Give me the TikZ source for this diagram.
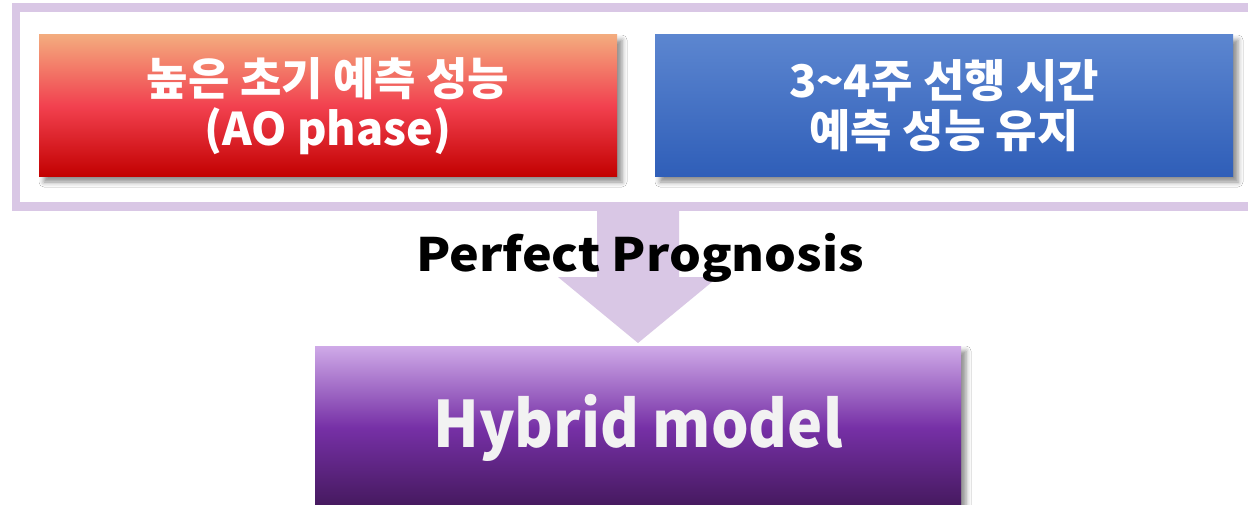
\documentclass[tikz,border=0pt]{standalone}
\usepackage{fontspec}
\setmainfont{Noto Sans CJK KR}
\usetikzlibrary{shadows.blur}
\definecolor{frameC}{HTML}{D9C7E5}
\definecolor{redTop}{HTML}{F3AB7E}
\definecolor{redMid}{HTML}{F2414F}
\definecolor{redBot}{HTML}{C20000}
\definecolor{blueTop}{HTML}{5C86D0}
\definecolor{blueBot}{HTML}{2F5EB8}
\definecolor{purTop}{HTML}{CFAAE8}
\definecolor{purMid}{HTML}{7630A6}
\definecolor{purBot}{HTML}{43185B}
\definecolor{hyText}{HTML}{F2F2F2}
\tikzset{
  box/.style={inner sep=0pt, align=center, text=white,
    blur shadow={shadow xshift=5pt, shadow yshift=-5pt, shadow blur radius=5pt, shadow opacity=45}},
  toptext/.style={font=\fontsize{45}{50}\selectfont\bfseries},
}
\begin{document}
\begin{tikzpicture}[x=1pt,y=-1pt]
\clip (0,0) rectangle (1248,505);
\fill[white] (0,0) rectangle (1248,505);
% frame
\node[draw=frameC, line width=8.5pt, minimum width=1244pt, minimum height=199pt, inner sep=0pt] (frame) at (638,107) {};
% arrow
\coordinate (tip) at (638,343);
\fill[frameC] (frame.south -| 597,0) -- (frame.south -| 679,0) -- (679,277) -- (718,277) -- (tip) -- (558,277) -- (597,277) -- cycle;
% boxes
\node[box, minimum width=578pt, minimum height=142pt, top color=redTop, bottom color=redBot, middle color=redMid, toptext] (red) at (328,106) {높은 초기 예측 성능\\(AO phase)};
\node[box, minimum width=578pt, minimum height=142pt, top color=blueTop, bottom color=blueBot, toptext] (blue) at (944,106) {3\char"007E 4주 선행 시간\\예측 성능 유지};
\node[box, minimum width=646pt, minimum height=164pt, top color=purTop, bottom color=purBot, middle color=purMid, text=hyText, font=\fontsize{64}{70}\selectfont\bfseries] (hybrid) at (638,428) {\scalebox{0.925}[1]{Hybrid model}};
% label
\node[anchor=base, font=\fontsize{46}{50}\selectfont\bfseries, inner sep=0pt] (pp) at (640,272) {\scalebox{1.09}[1]{Perfect Prognosis}};
\end{tikzpicture}
\end{document}
